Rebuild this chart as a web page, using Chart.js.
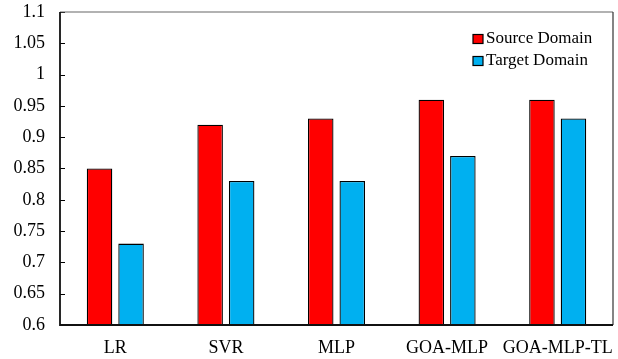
<!DOCTYPE html>
<html>
<head>
<meta charset="utf-8">
<script src="https://cdn.jsdelivr.net/npm/chart.js@4"></script>
<style>
    html, body { margin: 0; padding: 0; background: #fff; }
    #wrap { width: 618px; height: 359px; }
</style>
</head>
<body>
<div id="wrap"><canvas id="chart" width="618" height="359"></canvas></div>
<script>
const categories = ['LR', 'SVR', 'MLP', 'GOA-MLP', 'GOA-MLP-TL'];
const sourceDomain = [0.85, 0.92, 0.93, 0.96, 0.96];
const targetDomain = [0.73, 0.83, 0.83, 0.87, 0.93];

const FONT = "'Liberation Serif', 'Times New Roman', serif";

// frame around the plot plus inward y ticks and the legend inside the plot
const framePlugin = {
    id: 'frame',
    afterDraw(chart) {
        const { ctx, chartArea: a, scales } = chart;
        ctx.save();

        // inward ticks
        ctx.strokeStyle = '#000';
        ctx.lineWidth = 1;
        scales.y.ticks.forEach((t) => {
            const y = Math.round(scales.y.getPixelForValue(t.value)) + 0.5;
            ctx.beginPath();
            ctx.moveTo(a.left, y);
            ctx.lineTo(a.left + 5, y);
            ctx.stroke();
        });

        // box
        ctx.lineWidth = 1.2;
        ctx.strokeStyle = '#666';
        ctx.beginPath();
        ctx.moveTo(a.left, a.top);
        ctx.lineTo(a.right, a.top);
        ctx.stroke();
        ctx.strokeStyle = '#333';
        ctx.beginPath();
        ctx.moveTo(a.right, a.top);
        ctx.lineTo(a.right, a.bottom);
        ctx.stroke();
        ctx.lineWidth = 1.8;
        ctx.strokeStyle = '#111';
        ctx.beginPath();
        ctx.moveTo(a.left, a.top);
        ctx.lineTo(a.left, a.bottom);
        ctx.lineTo(a.right, a.bottom);
        ctx.stroke();

        // legend
        ctx.font = `17px ${FONT}`;
        ctx.textBaseline = 'middle';
        ctx.textAlign = 'left';
        chart.data.datasets.forEach((ds, i) => {
            const y = 39 + i * 22;
            ctx.fillStyle = ds.backgroundColor;
            ctx.fillRect(473, y - 4.5, 10, 9);
            ctx.lineWidth = 1.2;
            ctx.strokeStyle = '#000';
            ctx.strokeRect(473, y - 4.5, 10, 9);
            ctx.fillStyle = '#000';
            ctx.fillText(ds.label, 486, y);
        });
        ctx.restore();
    }
};

new Chart(
    document.getElementById('chart'),
    {
        type: 'bar',
        data: {
            labels: categories,
            datasets: [
                {
                    label: 'Source Domain',
                    data: sourceDomain,
                    backgroundColor: '#FF0000',
                    borderColor: '#000',
                    borderWidth: 1.3,
                    borderSkipped: false,
                    categoryPercentage: 0.57,
                    barPercentage: 0.81,
                },
                {
                    label: 'Target Domain',
                    data: targetDomain,
                    backgroundColor: '#00B0F0',
                    borderColor: '#000',
                    borderWidth: 1.3,
                    borderSkipped: false,
                    categoryPercentage: 0.57,
                    barPercentage: 0.81,
                }
            ]
        },
        options: {
            responsive: false,
            animation: false,
            layout: {
                padding: 0
            },
            plugins: {
                legend: { display: false },
                tooltip: { enabled: false }
            },
            scales: {
                x: {
                    grid: { display: false, drawTicks: false },
                    border: { display: false },
                    ticks: {
                        color: '#000',
                        padding: 12,
                        maxRotation: 0,
                        minRotation: 0,
                        autoSkip: false,
                        font: { family: FONT, size: 18 }
                    },
                    afterFit: (scale) => {
                        scale.height = 34;
                        scale.paddingLeft = 0;
                        scale.paddingRight = 5;
                    }
                },
                y: {
                    min: 0.6,
                    max: 1.1,
                    grid: { display: false, drawTicks: false },
                    border: { display: false },
                    ticks: {
                        stepSize: 0.05,
                        color: '#000',
                        padding: 15,
                        font: { family: FONT, size: 18 },
                        callback: (value) => String(Number(value.toFixed(2)))
                    },
                    afterFit: (scale) => {
                        scale.width = 60;
                        scale.paddingTop = 12;
                        scale.paddingBottom = 0;
                    }
                }
            }
        },
        plugins: [framePlugin]
    }
);
</script>
</body>
</html>
